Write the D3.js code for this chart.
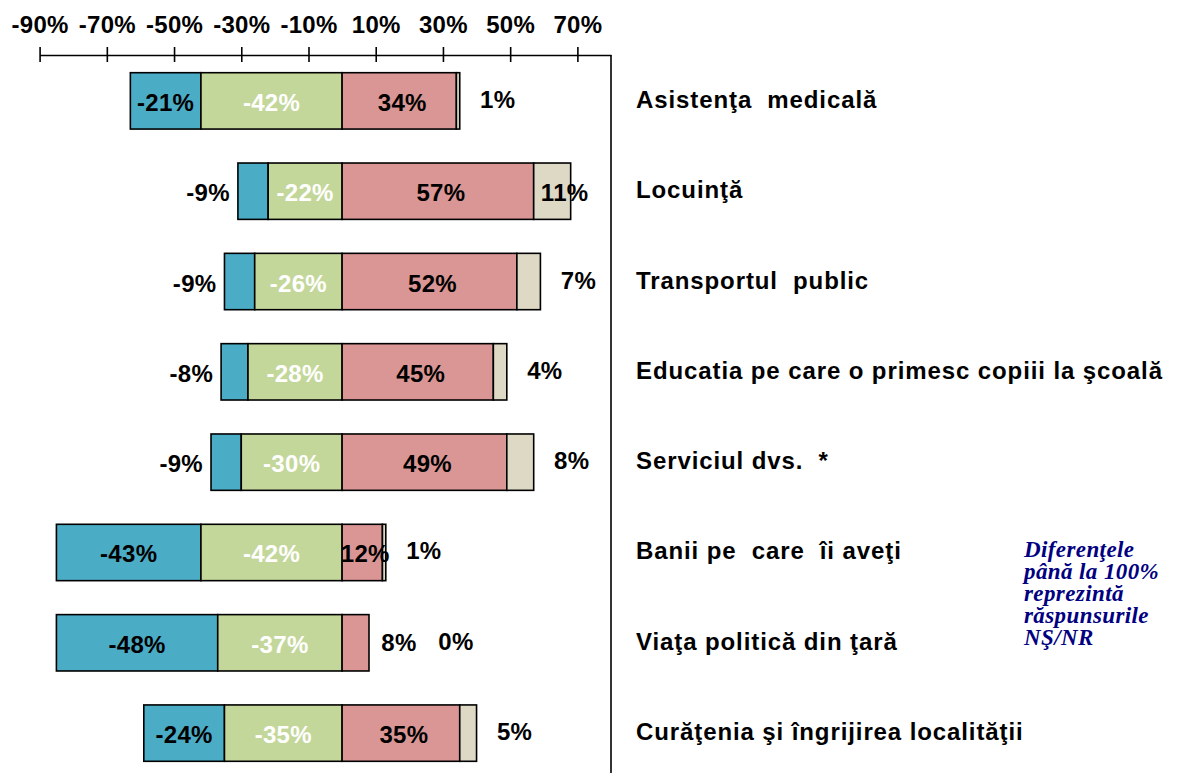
<!DOCTYPE html>
<html>
<head>
<meta charset="utf-8">
<script src="https://cdn.jsdelivr.net/npm/d3@7"></script>
<style>
  body { margin: 0; background: #fff; }
  svg { display: block; font-family: "Liberation Sans", Arial, sans-serif; font-weight: bold; }
</style>
</head>
<body>
<svg width="1180" height="773"></svg>
<script>
// survey rows, top to bottom
var categories = [
  'Asistenţa  medicală',
  'Locuinţă',
  'Transportul  public',
  'Educatia pe care o primesc copiii la şcoală',
  'Serviciul dvs.  *',
  'Banii pe  care  îi aveţi',
  'Viaţa politică din ţară',
  'Curăţenia şi îngrijirea localităţii'
];
var veryBad = [-21, -9, -9, -8, -9, -43, -48, -24];
var bad = [-42, -22, -26, -28, -30, -42, -37, -35];
var good = [34, 57, 52, 45, 49, 12, 8, 35];
var nsnr = [1, 11, 7, 4, 8, 1, 0, 5];
var tickVals = [-90, -70, -50, -30, -10, 10, 30, 50, 70];
var noteLines = ['Diferenţele', 'până la 100%', 'reprezintă', 'răspunsurile', 'NŞ/NR'];

var colors = {veryBad: '#4bacc6', bad: '#c4d79b', good: '#da9694', nsnr: '#ddd9c4'};

var svg = d3.select('svg');
var axisY = 55;

var x = d3.scaleLinear().domain([-90, 80]).range([39.6, 611]);
var y = d3.scaleBand().domain(categories).range([axisY, 779])
  .paddingInner(0.376).paddingOuter(0.196);

// build segments per row
var rows = categories.map((c, i) => {
  var segs = [
    {key: 'veryBad', x0: veryBad[i] + bad[i], x1: bad[i], v: veryBad[i]},
    {key: 'bad', x0: bad[i], x1: 0, v: bad[i]},
    {key: 'good', x0: 0, x1: good[i], v: good[i]},
    {key: 'nsnr', x0: good[i], x1: good[i] + nsnr[i], v: nsnr[i]}
  ];
  return {cat: c, segs: segs};
});

var g = svg.selectAll('g.row')
  .data(rows)
  .enter()
  .append('g')
  .attr('class', 'row');

g.selectAll('rect')
  .data(d => d.segs.map(s => Object.assign({cat: d.cat}, s)))
  .enter()
  .append('rect')
  .attr('x', d => x(d.x0))
  .attr('y', d => y(d.cat))
  .attr('width', d => x(d.x1) - x(d.x0))
  .attr('height', y.bandwidth())
  .attr('fill', d => colors[d.key])
  .attr('stroke', '#000')
  .attr('stroke-width', 1.6);

// value labels
var lab = [];
rows.forEach((r, i) => {
  var cy = y(r.cat) + y.bandwidth() / 2;
  var s = r.segs;
  var barEnd = x(s[3].x1);
  // very bad
  if (Math.abs(s[0].v) >= 15) {
    lab.push({x: x((s[0].x0 + s[0].x1) / 2), y: cy + 10, t: s[0].v, fill: '#000', anchor: 'middle'});
  } else {
    lab.push({x: x(s[0].x0) - 8, y: cy + 10, t: s[0].v, fill: '#000', anchor: 'end'});
  }
  // bad
  lab.push({x: x((s[1].x0 + s[1].x1) / 2), y: cy + 10, t: s[1].v, fill: '#fff', anchor: 'middle'});
  // good
  var nsX;
  if (s[2].v >= 10) {
    lab.push({x: x((s[2].x0 + s[2].x1) / 2) + 3, y: cy + 10, t: s[2].v, fill: '#000', anchor: 'middle'});
    nsX = s[3].v >= 10 ? barEnd - 6 : barEnd + 38;
  } else {
    lab.push({x: barEnd + 30, y: cy + 8, t: s[2].v, fill: '#000', anchor: 'middle'});
    nsX = barEnd + 87;
  }
  lab.push({x: nsX, y: cy + (s[3].v >= 10 ? 10 : 7), t: s[3].v, fill: '#000', anchor: 'middle'});
});

svg.selectAll('text.val')
  .data(lab)
  .enter()
  .append('text')
  .attr('class', 'val')
  .attr('x', d => d.x)
  .attr('y', d => d.y)
  .attr('text-anchor', d => d.anchor)
  .attr('fill', d => d.fill)
  .style('font-size', '24px')
  .style('letter-spacing', '0.3px')
  .text(d => d.t + '%');

// top axis
var axis = svg.append('g')
  .attr('transform', 'translate(0,' + axisY + ')')
  .call(d3.axisTop(x).tickValues(tickVals).tickSizeOuter(0).tickFormat(d => d + '%'));

axis.select('.domain').attr('stroke', '#000').attr('stroke-width', 1.6);
axis.selectAll('.tick line').attr('y1', 7).attr('y2', -8).attr('stroke', '#000').attr('stroke-width', 1.6);
axis.selectAll('.tick text')
  .attr('y', -22)
  .attr('dy', 0)
  .attr('fill', '#000')
  .style('font-size', '24px')
  .style('font-family', '"Liberation Sans", Arial, sans-serif')
  .style('font-weight', 'bold')
  .style('letter-spacing', '0.3px');

// right border line
svg.append('line')
  .attr('x1', x(80)).attr('x2', x(80))
  .attr('y1', axisY).attr('y2', 773)
  .attr('stroke', '#000')
  .attr('stroke-width', 1.6);

// category names
svg.selectAll('text.cat')
  .data(categories)
  .enter()
  .append('text')
  .attr('class', 'cat')
  .attr('x', 636)
  .attr('y', d => y(d) + y.bandwidth() / 2 + 7)
  .style('font-size', '24px')
  .style('letter-spacing', '0.9px')
  .style('white-space', 'pre')
  .text(d => d);

// note
svg.append('text')
  .attr('x', 1024)
  .attr('y', 557)
  .attr('fill', '#000080')
  .style('font-family', '"Liberation Serif", "Times New Roman", serif')
  .style('font-style', 'italic')
  .style('font-weight', 'bold')
  .style('font-size', '23px')
  .style('letter-spacing', '0.4px')
  .selectAll('tspan')
  .data(noteLines)
  .enter()
  .append('tspan')
  .attr('x', 1024)
  .attr('dy', (d, i) => i ? 22 : 0)
  .text(d => d);
</script>
</body>
</html>
